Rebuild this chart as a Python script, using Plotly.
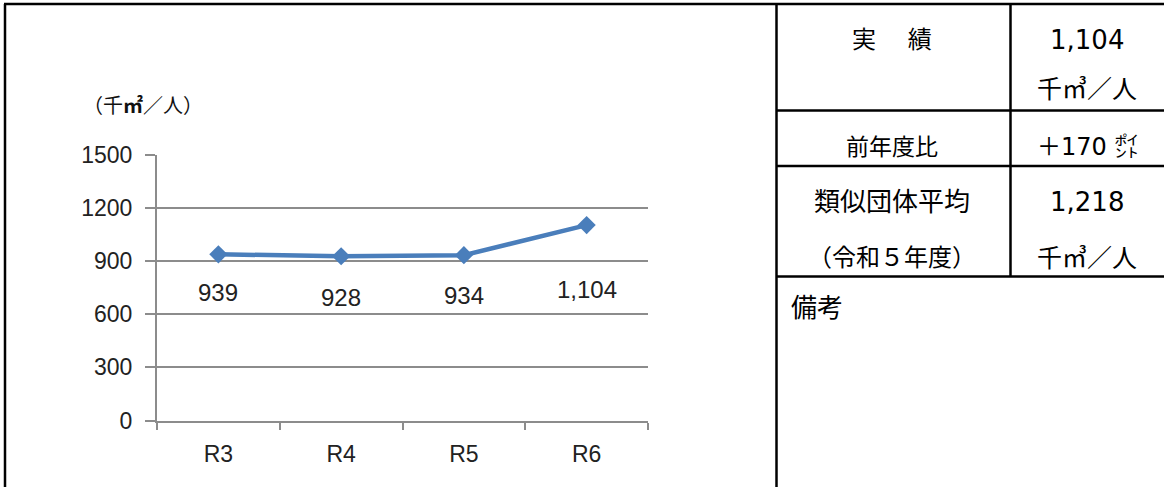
import plotly.graph_objects as go

# ---- data ----
categories = ["R3", "R4", "R5", "R6"]
values = [939, 928, 934, 1104]
value_labels = ["939", "928", "934", "1,104"]
y_ticks = [0, 300, 600, 900, 1200, 1500]
unit_label = "（千<b>㎡</b>／人）"

table_left = ["実　 績", "", "前年度比", "類似団体平均", "（令和５年度）"]
table_right = ["1,104", "千㎥／人", "＋170 ㌽", "1,218", "千㎥／人"]
note_label = "備考"

# ---- styling / layout helpers ----
W, H = 1164, 487
label_yshift = [-38, -41, -40, -64]
left_sizes = [24, 0, 23, 26, 24]
right_sizes = [26, 25, 24, 26, 25]


def px(x):
    return x / W


def py(y):
    return 1 - y / H


chart_font = "Liberation Sans, Arial, sans-serif"
table_font = "DejaVu Sans, Noto Sans CJK JP, sans-serif"
blue = "#4a7ebb"
grid = "#8c8c8c"

fig = go.Figure()
fig.add_trace(go.Scatter(
    x=categories, y=values, mode="lines+markers",
    line=dict(color=blue, width=4.5),
    marker=dict(symbol="diamond", size=14, color=blue),
    hoverinfo="skip", showlegend=False,
))

annotations = []
for c, v, t, s in zip(categories, values, value_labels, label_yshift):
    annotations.append(dict(x=c, y=v, xref="x", yref="y", text=t, showarrow=False,
                            yshift=s, font=dict(family=chart_font, size=24, color="#222")))

annotations.append(dict(x=px(81), y=py(104), xref="paper", yref="paper", text=unit_label,
                        showarrow=False, xanchor="left", yanchor="middle",
                        font=dict(family="Noto Sans CJK JP", size=20, color="#111")))

# table text
left_cx, right_cx = px(892), px(1087)
row_y = [40, 90, 147, 202, 258]
for t, y, s in zip(table_left, row_y, left_sizes):
    if t:
        annotations.append(dict(x=left_cx, y=py(y), xref="paper", yref="paper", text=t,
                                showarrow=False, xanchor="center", yanchor="middle",
                                font=dict(family=table_font, size=s, color="#000")))
for t, y, s in zip(table_right, row_y, right_sizes):
    annotations.append(dict(x=right_cx, y=py(y), xref="paper", yref="paper", text=t,
                            showarrow=False, xanchor="center", yanchor="middle",
                            font=dict(family=table_font, size=s, color="#000")))
annotations.append(dict(x=px(789), y=py(308), xref="paper", yref="paper", text=note_label,
                        showarrow=False, xanchor="left", yanchor="middle",
                        font=dict(family=table_font, size=26, color="#000")))

# frame / table lines
shapes = []


def line(x0, y0, x1, y1, w=2.5):
    shapes.append(dict(type="line", xref="paper", yref="paper",
                       x0=px(x0), y0=py(y0), x1=px(x1), y1=py(y1),
                       line=dict(color="#000", width=w)))


line(5, 4, 5, 487)
line(4, 4, 1164, 4)
line(776.5, 4, 776.5, 487)
line(1010.5, 4, 1010.5, 277)
line(776, 110.5, 1164, 110.5)
line(776, 166, 1164, 166)
line(776, 276.5, 1164, 276.5)

fig.update_layout(
    width=W, height=H,
    margin=dict(l=0, r=0, t=0, b=0, pad=0, autoexpand=False),
    paper_bgcolor="white", plot_bgcolor="white",
    annotations=annotations, shapes=shapes,
    xaxis=dict(domain=[px(157), px(648)], type="category", range=[-0.5, 3.5],
               automargin=False,
               showgrid=False, showline=True, linecolor=grid, linewidth=2,
               ticks="outside", tickson="boundaries", ticklen=7, tickwidth=2, tickcolor=grid,
               ticklabelstandoff=12,
               tickfont=dict(family=chart_font, size=23, color="#222"), fixedrange=True),
    yaxis=dict(domain=[py(420.5), py(155)], range=[0, 1500], tickvals=y_ticks,
               automargin=False,
               showgrid=True, gridcolor=grid, gridwidth=2,
               showline=True, linecolor=grid, linewidth=2, zeroline=False,
               ticks="outside", ticklen=10, tickwidth=2, tickcolor=grid,
               ticklabelstandoff=8,
               tickfont=dict(family=chart_font, size=23, color="#222"), fixedrange=True),
)

fig.write_html("out.html", config={"displayModeBar": False},
               post_script="document.body.style.margin='0';document.body.style.overflow='hidden';")
